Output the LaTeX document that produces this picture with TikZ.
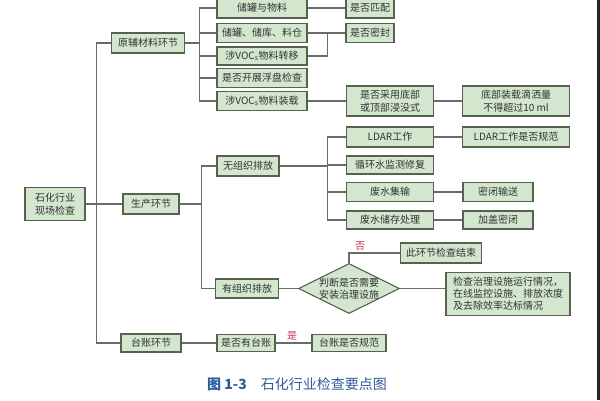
\documentclass[tikz,border=0pt]{standalone}
\usepackage{fontspec}
\setmainfont{Noto Sans CJK SC}
\usetikzlibrary{shapes.geometric}
\definecolor{boxfill}{HTML}{D3E6CE}
\definecolor{boxline}{HTML}{56624F}
\definecolor{conn}{HTML}{6A6A6A}
\definecolor{txtc}{HTML}{333333}
\definecolor{capblue}{HTML}{2E5C9A}
\definecolor{nored}{HTML}{C0394B}
\begin{document}
\begin{tikzpicture}[x=1pt,y=-1pt,
  bx/.style={draw=boxline, fill=boxfill, line width=1.1pt, inner sep=0pt, text=txtc,
    font=\fontsize{10}{12.5}\selectfont, align=center},
  dia/.style={bx, shape=diamond},
  ln/.style={draw=conn, line width=1.1pt},
  lbl/.style={text=nored, font=\fontsize{10}{12}\selectfont, inner sep=0pt},
  captxt/.style={text=capblue, font=\fontsize{14}{16}\selectfont, inner sep=0pt, anchor=west}]
\useasboundingbox (0,0) rectangle (600,400);
\fill[white] (0,0) rectangle (600,400);
\fill[black!85] (597,0) rectangle (600,400);
% nodes
\node[bx, minimum width=60, minimum height=33] (root) at (55,204) {石化行业\\现场检查};
\node[bx, minimum width=73, minimum height=20] (raw) at (148,43) {原辅材料环节};
\node[bx, minimum width=56, minimum height=20] (prod) at (151,204) {生产环节};
\node[bx, minimum width=60, minimum height=18] (ledger) at (151,343) {台账环节};
\node[bx, minimum width=90, minimum height=20] (b1) at (262,8) {储罐与物料};
\node[bx, minimum width=90, minimum height=19] (b2) at (262,33) {储罐、储库、料仓};
\node[bx, minimum width=90, minimum height=18] (b3) at (262,56) {涉VOC\textsubscript{s}物料转移};
\node[bx, minimum width=90, minimum height=19] (b4) at (262,78) {是否开展浮盘检查};
\node[bx, minimum width=90, minimum height=19] (b5) at (262,101) {涉VOC\textsubscript{s}物料装载};
\node[bx, minimum width=48, minimum height=20] (c1) at (370,8) {是否匹配};
\node[bx, minimum width=48, minimum height=19] (c2) at (370,33) {是否密封};
\node[bx, minimum width=87, minimum height=30] (c3) at (390,101) {是否采用底部\\或顶部浸没式};
\node[bx, minimum width=107, minimum height=30] (d3) at (516,101) {底部装载滴洒量\\不得超过10 ml};
\node[bx, minimum width=62, minimum height=20] (u) at (248,166) {无组织排放};
\node[bx, minimum width=87, minimum height=20] (L1) at (390,137) {LDAR工作};
\node[bx, minimum width=107, minimum height=20] (L1r) at (516,137) {LDAR工作是否规范};
\node[bx, minimum width=87, minimum height=18] (L2) at (390,165) {循环水监测修复};
\node[bx, minimum width=87, minimum height=19] (L3) at (390,192) {废水集输};
\node[bx, minimum width=70, minimum height=19] (L3r) at (498,192) {密闭输送};
\node[bx, minimum width=87, minimum height=18] (L4) at (390,220) {废水储存处理};
\node[bx, minimum width=70, minimum height=18] (L4r) at (498,220) {加盖密闭};
\node[bx, minimum width=63, minimum height=19] (o) at (247,288.5) {有组织排放};
\node[dia, minimum width=101, minimum height=50] (dj) at (349,288.5) {};
\node[text=txtc, font=\fontsize{10}{12.5}\selectfont, align=center, inner sep=0pt] (djt) at (dj.center) {判断是否需要\\安装治理设施};
\node[bx, minimum width=81, minimum height=20] (fin) at (441,253) {此环节检查结束};
\node[bx, minimum width=124, minimum height=43, align=left, font=\fontsize{10}{12}\selectfont] (chk) at (508,294) {检查治理设施运行情况，\\在线监控设施、排放浓度\\及去除效率达标情况};
\node[bx, minimum width=58, minimum height=17] (t1) at (246,343) {是否有台账};
\node[bx, minimum width=74, minimum height=17] (t2) at (349,343) {台账是否规范};
\node[lbl] (no) at (360,246) {否};
\node[lbl] (yes) at (292,336) {是};
\node[captxt] (caption) at (207,384) {\textbf{图 1-3}\quad 石化行业检查要点图};
% connectors
\draw[ln] (root.east) -- ++(11,0) |- (raw.west);
\draw[ln] (root.east) -- ++(11,0) |- (ledger.west);
\draw[ln] (root.east) -- (prod.west);
\foreach \b in {b1,b2,b3,b4,b5} \draw[ln] (raw.east) -- ++(14,0) |- (\b.west);
\draw[ln] (b1.east) -- (c1.west);
\draw[ln] (b2.east) -- (c2.west);
\draw[ln] (b3.east) -- ++(20,0) |- (c2.west);
\draw[ln] (b5.east) -- (c3.west);
\draw[ln] (c3.east) -- (d3.west);
\draw[ln] (prod.east) -- ++(22,0) |- (u.west);
\draw[ln] (prod.east) -- ++(22,0) |- (o.west);
\foreach \b in {L1,L2,L3,L4} \draw[ln] (u.east) -- ++(48,0) |- (\b.west);
\draw[ln] (L1.east) -- (L1r.west);
\draw[ln] (L3.east) -- (L3r.west);
\draw[ln] (L4.east) -- (L4r.west);
\draw[ln] (o.east) -- (dj.west);
\draw[ln] (dj.north) |- (fin.west);
\draw[ln] (dj.east) -- (dj.east -| chk.west);
\draw[ln] (ledger.east) -- (t1.west);
\draw[ln] (t1.east) -- (t2.west);
\end{tikzpicture}
\end{document}
